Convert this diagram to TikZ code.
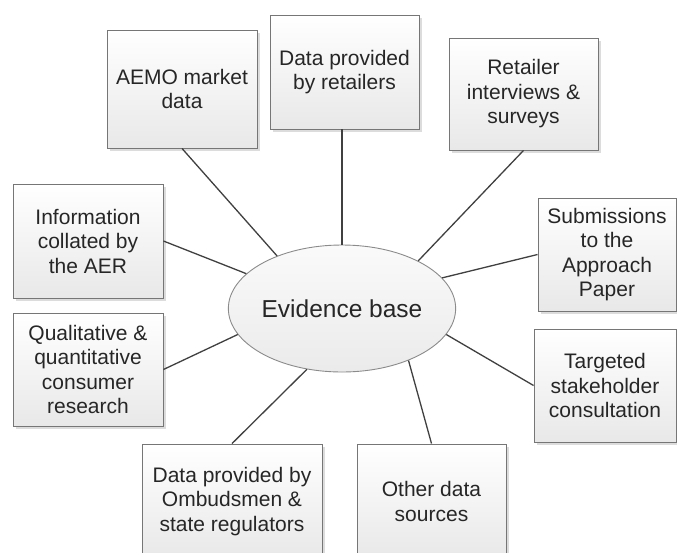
\documentclass[tikz,border=0pt]{standalone}
\usepackage{fontspec}
\setmainfont{Liberation Sans}
\usetikzlibrary{shapes.geometric,shadows}

\definecolor{boxline}{HTML}{767676}
\definecolor{linkline}{HTML}{404040}
\definecolor{textcol}{HTML}{262626}

\tikzset{
  source/.style={
    rectangle, draw=boxline, line width=0.9pt,
    top color=white, bottom color=black!9,
    inner sep=0pt, align=center, text=textcol,
    font=\fontsize{21}{24.5}\selectfont,
    drop shadow={shadow xshift=2.5pt, shadow yshift=-2.5pt, fill=black!30, opacity=0.45}
  },
  hub/.style={
    ellipse, draw=boxline!85, line width=0.9pt,
    top color=black!2, bottom color=black!8,
    inner sep=0pt, minimum width=200pt, minimum height=127pt,
    text=textcol, font=\fontsize{24.5}{28}\selectfont
  },
  link/.style={draw=linkline, line width=1.3pt}
}

\begin{document}
\begin{tikzpicture}[x=1pt, y=-1pt]
  \useasboundingbox (0,0) rectangle (677,552);
  \fill[white] (0,0) rectangle (677,552);
  \clip (0,0) rectangle (677,552);

  % centre
  \node[hub] (eb) at (342,308.5) {Evidence base};

  % surrounding sources
  \node[source, minimum width=150pt, minimum height=118pt] (aemo) at (182,89) {AEMO market\\data};
  \node[source, minimum width=149pt, minimum height=114pt] (retail) at (344.5,72) {Data provided\\by retailers};
  \node[source, minimum width=149pt, minimum height=112pt] (interv) at (523.5,94) {Retailer\\interviews \&\\surveys};
  \node[source, minimum width=150pt, minimum height=114pt] (info) at (88,241) {Information\\collated by\\the AER};
  \node[source, minimum width=138pt, minimum height=113pt] (subm) at (607,254.5) {Submissions\\to the\\Approach\\Paper};
  \node[source, minimum width=150pt, minimum height=113pt] (qual) at (88,369.5) {Qualitative \&\\quantitative\\consumer\\research};
  \node[source, minimum width=142pt, minimum height=113pt] (targ) at (605,385.5) {Targeted\\stakeholder\\consultation};
  \node[source, minimum width=180pt, minimum height=115pt] (omb) at (232,501.5) {Data provided by\\Ombudsmen \&\\state regulators};
  \node[source, minimum width=149pt, minimum height=115pt] (other) at (431.5,501.5) {Other data\\sources};

  % connectors
  \draw[link] (aemo.south) -- (eb.141.7);
  \draw[link] (retail.south -| eb.north) -- (eb.north);
  \draw[link] (interv.south) -- (eb.32.9);
  \draw[link] (info.east) -- (eb.160.1);
  \draw[link] (subm.west) -- (eb.17.4);
  \draw[link] (qual.east) -- (eb.194);
  \draw[link] (targ.west) -- (eb.-14.3);
  \draw[link] (other.north) -- (eb.-38.5);
  \draw[link] (omb.north) -- (eb.-120.5);
\end{tikzpicture}
\end{document}
